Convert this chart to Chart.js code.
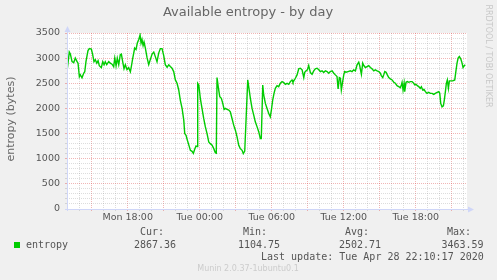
<!DOCTYPE html>
<html>
<head>
<meta charset="utf-8">
<script src="https://cdn.jsdelivr.net/npm/chart.js@4"></script>
<style>
  html, body { margin: 0; padding: 0; background: #f0f0f0; }
</style>
</head>
<body>
<canvas id="chart" width="497" height="280"></canvas>
<script>
// time axis: hours since Mon 00:00
const hours = [
  12.94, 13.13, 13.22, 13.36, 13.50, 13.63, 13.78, 13.86, 13.97, 14.05,
  14.19, 14.33, 14.42, 14.52, 14.69, 14.80, 14.97, 15.08, 15.19, 15.30,
  15.42, 15.53, 15.63, 15.80, 15.92, 16.03, 16.13, 16.25, 16.42, 16.55,
  16.69, 16.83, 16.92, 17.03, 17.13, 17.25, 17.38, 17.47, 17.58, 17.69,
  17.80, 17.94, 18.08, 18.22, 18.30, 18.42, 18.58, 18.69, 18.80, 18.92,
  19.03, 19.11, 19.19, 19.28, 19.36, 19.47, 19.61, 19.75, 19.88, 20.03,
  20.17, 20.30, 20.44, 20.58, 20.72, 20.86, 21.00, 21.13, 21.28, 21.42,
  21.55, 21.69, 21.83, 21.97, 22.11, 22.25, 22.38, 22.53, 22.67, 22.75,
  22.86, 22.97, 23.08, 23.22, 23.36, 23.47, 23.58, 23.69, 23.78, 23.83,
  23.92, 24.05, 24.19, 24.33, 24.47, 24.61, 24.75, 24.88, 25.03, 25.17,
  25.30, 25.38, 25.44, 25.58, 25.67, 25.80, 25.92, 26.03, 26.13, 26.28,
  26.42, 26.55, 26.69, 26.83, 26.97, 27.11, 27.25, 27.38, 27.53, 27.63,
  27.75, 28.00, 28.08, 28.22, 28.36, 28.50, 28.63, 28.78, 28.92, 29.05,
  29.13, 29.25, 29.33, 29.47, 29.61, 29.75, 29.88, 29.97, 30.08, 30.19,
  30.30, 30.44, 30.58, 30.72, 30.86, 31.00, 31.13, 31.28, 31.42, 31.55,
  31.69, 31.77, 31.88, 31.97, 32.11, 32.25, 32.38, 32.53, 32.67, 32.75,
  32.86, 32.97, 33.08, 33.22, 33.36, 33.50, 33.63, 33.78, 33.92, 34.05,
  34.19, 34.33, 34.47, 34.61, 34.75, 34.88, 35.03, 35.17, 35.30, 35.44,
  35.53, 35.63, 35.72, 35.80, 35.92, 36.00, 36.08, 36.19, 36.36, 36.55,
  36.69, 36.83, 36.97, 37.11, 37.25, 37.33, 37.38, 37.47, 37.58, 37.67,
  37.80, 37.94, 38.08, 38.22, 38.36, 38.50, 38.63, 38.78, 38.92, 39.05,
  39.13, 39.25, 39.33, 39.42, 39.53, 39.63, 39.75, 39.88, 40.03, 40.17,
  40.30, 40.44, 40.58, 40.72, 40.80, 40.86, 40.94, 41.03, 41.08, 41.19,
  41.30, 41.42, 41.55, 41.69, 41.83, 41.92, 42.03, 42.13, 42.25, 42.38,
  42.47, 42.58, 42.69, 42.80, 42.94, 43.08, 43.22, 43.36, 43.50, 43.63,
  43.78, 43.92, 44.00, 44.08, 44.19, 44.30, 44.38, 44.47, 44.55, 44.63,
  44.72, 44.80, 44.92, 45.08, 45.25, 45.36, 45.44, 45.53, 45.63, 45.75,
  45.86, 45.94, 46.05, 46.13
];

// available entropy (bytes)
const entropy = [
  2730, 3120, 3080, 2930, 2910, 3000, 2930, 2900, 2630, 2670,
  2610, 2700, 2730, 2930, 3150, 3190, 3180, 3070, 2930, 2970,
  2900, 2950, 2850, 2810, 2930, 2870, 2930, 2870, 2930, 2900,
  2880, 2830, 3000, 2850, 3000, 2870, 3070, 3080, 2930, 2790,
  2870, 2770, 2810, 2730, 2830, 3000, 3200, 3170, 3300, 3370,
  3460, 3300, 3370, 3250, 3320, 3200, 3010, 2870, 2970, 3080,
  3120, 3030, 2930, 3100, 3190, 3190, 3050, 2870, 2820, 2867,
  2833, 2800, 2733, 2567, 2500, 2367, 2167, 2000, 1767, 1500,
  1467, 1367, 1280, 1167, 1147, 1105, 1187, 1253, 1240, 2500,
  2467, 2200, 2000, 1800, 1633, 1500, 1333, 1300, 1267, 1200,
  1120, 1110, 2613, 2367, 2233, 2200, 2100, 1980, 2000, 1980,
  1967, 1933, 1800, 1667, 1567, 1433, 1267, 1200, 1167, 1100,
  1150, 2567, 2433, 2200, 2000, 1867, 1733, 1633, 1533, 1400,
  1400, 2467, 2267, 2100, 2000, 1900, 1833, 1967, 2167, 2300,
  2400, 2453, 2433, 2500, 2533, 2513, 2480, 2500, 2480, 2533,
  2567, 2520, 2567, 2600, 2667, 2787, 2800, 2767, 2613, 2720,
  2747, 2767, 2853, 2713, 2680, 2747, 2787, 2800, 2767, 2733,
  2747, 2713, 2747, 2733, 2700, 2733, 2747, 2700, 2667, 2633,
  2387, 2613, 2600, 2367, 2547, 2667, 2733, 2720, 2733, 2747,
  2733, 2767, 2747, 2867, 2920, 2853, 2787, 2680, 2900, 2853,
  2813, 2833, 2853, 2813, 2787, 2747, 2767, 2747, 2733, 2700,
  2653, 2613, 2667, 2733, 2720, 2667, 2613, 2587, 2567, 2520,
  2500, 2453, 2433, 2413, 2467, 2520, 2367, 2500, 2333, 2520,
  2533, 2520, 2533, 2533, 2500, 2467, 2480, 2453, 2433, 2400,
  2433, 2367, 2380, 2333, 2300, 2320, 2300, 2300, 2280, 2300,
  2320, 2333, 2300, 2100, 2033, 2053, 2167, 2333, 2500, 2567,
  2400, 2547, 2547, 2547, 2567, 2767, 2900, 3000, 3033, 2987,
  2900, 2813, 2853, 2867
];

const xStart = 12.94;
const xEnd = 46.27;
const xLabelHours = [18, 24, 30, 36, 42];
const xLabels = ['Mon 18:00', 'Tue 00:00', 'Tue 06:00', 'Tue 12:00', 'Tue 18:00'];

const legendHeaders = ['Cur:', 'Min:', 'Avg:', 'Max:'];
const legendValues = ['2867.36', '1104.75', '2502.71', '3463.59'];

const FONT = 'DejaVu Sans';
const MONO = 'DejaVu Sans Mono';
const MAJOR_GRID = 'rgba(222, 80, 80, 0.42)';
const MINOR_GRID = 'rgba(150, 150, 150, 0.32)';
const AXIS_COLOR = '#CFD6F8';

// background, axes with arrows, titles and the rrd legend
const muninFrame = {
    id: 'muninFrame',
    beforeDraw(chart) {
        const { ctx, chartArea: a } = chart;
        ctx.save();
        ctx.fillStyle = '#f0f0f0';
        ctx.fillRect(0, 0, chart.width, chart.height);
        ctx.fillStyle = '#ffffff';
        ctx.fillRect(a.left, a.top, a.right - a.left, a.bottom - a.top);
        ctx.restore();
    },
    afterDraw(chart) {
        const { ctx, chartArea: a } = chart;
        ctx.save();

        // axes
        ctx.strokeStyle = AXIS_COLOR;
        ctx.fillStyle = AXIS_COLOR;
        ctx.lineWidth = 1;
        ctx.beginPath();
        ctx.moveTo(a.left + 0.5, a.bottom + 2);
        ctx.lineTo(a.left + 0.5, a.top - 4);
        ctx.moveTo(a.left - 2, a.bottom + 0.5);
        ctx.lineTo(a.right + 3, a.bottom + 0.5);
        ctx.stroke();
        ctx.beginPath();
        ctx.moveTo(a.left - 2.5, a.top - 1);
        ctx.lineTo(a.left + 3.5, a.top - 1);
        ctx.lineTo(a.left + 0.5, a.top - 7);
        ctx.closePath();
        ctx.fill();
        ctx.beginPath();
        ctx.moveTo(a.right + 1, a.bottom - 2.5);
        ctx.lineTo(a.right + 1, a.bottom + 3.5);
        ctx.lineTo(a.right + 7, a.bottom + 0.5);
        ctx.closePath();
        ctx.fill();

        // title
        ctx.fillStyle = '#666666';
        ctx.textAlign = 'center';
        ctx.textBaseline = 'middle';
        ctx.font = '13px ' + FONT;
        ctx.fillText('Available entropy - by day', 248, 13);

        // y axis title
        ctx.save();
        ctx.translate(11, 119);
        ctx.rotate(-Math.PI / 2);
        ctx.font = '11px ' + FONT;
        ctx.fillText('entropy (bytes)', 0, 0);
        ctx.restore();

        // rrdtool credit
        ctx.save();
        ctx.translate(488, 56);
        ctx.rotate(Math.PI / 2);
        ctx.fillStyle = '#c8c8c8';
        ctx.font = '8px ' + FONT;
        ctx.fillText('RRDTOOL / TOBI OETIKER', 0, 0);
        ctx.restore();

        // legend
        ctx.fillStyle = '#00cc00';
        ctx.fillRect(14, 242, 6, 6);
        ctx.fillStyle = '#555555';
        ctx.textAlign = 'left';
        ctx.font = '10px ' + MONO;
        ctx.fillText('entropy', 26, 245);
        const headX = [140, 243, 345, 447];
        const valX = [134, 238, 339, 441.5];
        legendHeaders.forEach((h, i) => ctx.fillText(h, headX[i], 232));
        legendValues.forEach((v, i) => ctx.fillText(v, valX[i], 245));
        ctx.fillText('Last update: Tue Apr 28 22:10:17 2020', 261, 257);

        ctx.fillStyle = '#cccccc';
        ctx.textAlign = 'center';
        ctx.font = '8px ' + FONT;
        ctx.fillText('Munin 2.0.37-1ubuntu0.1', 248, 269);

        ctx.restore();
    }
};

const ctx = document.getElementById('chart');

new Chart(ctx, {
    type: 'line',
    data: {
        datasets: [{
            label: 'entropy',
            data: hours.map((h, i) => ({ x: h, y: entropy[i] })),
            borderColor: '#00cc00',
            borderWidth: 1.4,
            pointRadius: 0,
            tension: 0,
            fill: false,
        }]
    },
    options: {
        responsive: false,
        animation: false,
        layout: {
            padding: { top: 33, right: 30, bottom: 0, left: 0 }
        },
        plugins: {
            legend: { display: false },
            tooltip: { enabled: false }
        },
        scales: {
            x: {
                type: 'linear',
                min: xStart,
                max: xEnd,
                afterBuildTicks: (scale) => {
                    const ticks = [];
                    for (let h = Math.ceil(xStart); h <= xEnd; h++) {
                        ticks.push({ value: h });
                    }
                    scale.ticks = ticks;
                },
                afterFit: (scale) => { scale.height = 71; },
                ticks: {
                    autoSkip: false,
                    maxRotation: 0,
                    padding: 1,
                    color: '#555555',
                    font: { family: FONT, size: 9.5 },
                    callback: (value) => {
                        const i = xLabelHours.indexOf(value);
                        return i >= 0 ? xLabels[i] : '';
                    }
                },
                grid: {
                    drawTicks: true,
                    tickLength: 2,
                    color: (c) => (c.tick && c.tick.value % 3 === 0) ? MAJOR_GRID : MINOR_GRID,
                },
                border: { display: false, dash: [1, 1] }
            },
            y: {
                min: 0,
                max: 3500,
                afterFit: (scale) => { scale.width = 67; },
                ticks: {
                    stepSize: 100,
                    autoSkip: false,
                    padding: 5,
                    color: '#555555',
                    font: { family: FONT, size: 9.5 },
                    callback: (value) => value % 500 === 0 ? value : ''
                },
                grid: {
                    drawTicks: true,
                    tickLength: 2,
                    color: (c) => (c.tick && c.tick.value % 500 === 0) ? MAJOR_GRID : MINOR_GRID,
                },
                border: { display: false, dash: [1, 1] }
            }
        }
    },
    plugins: [muninFrame]
});
</script>
</body>
</html>
